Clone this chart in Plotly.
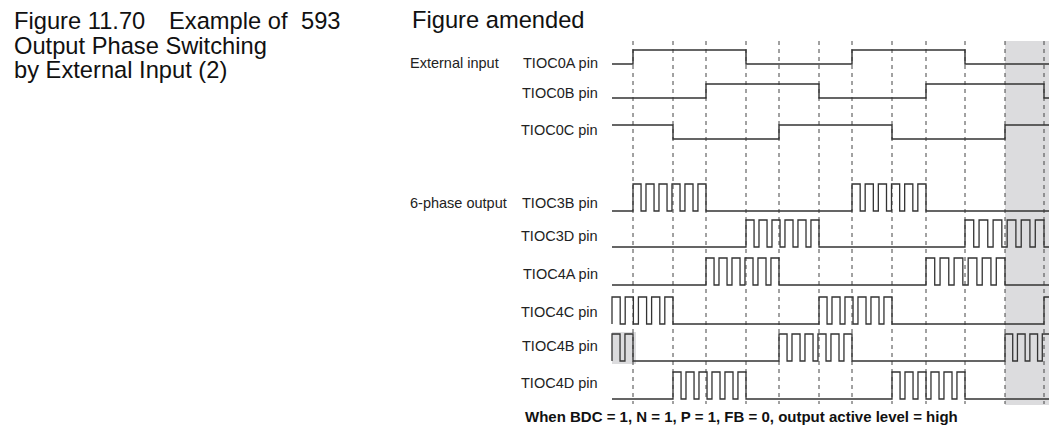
import plotly.graph_objects as go

# time axis (arbitrary units)
T_START, T_END = 612, 1050
EVENTS = [633, 673, 706, 746, 779, 819, 852, 892, 926, 965, 1005, 1044]

# external input pins: initial level and toggle times
input_names = ["TIOC0A pin", "TIOC0B pin", "TIOC0C pin"]
input_init = [0, 0, 1]
input_edges = [
    [633, 746, 852, 965],
    [706, 819, 926, 1044],
    [673, 779, 892, 1005],
]
input_low = [64, 98, 139]
input_label_y = [63, 93, 130]
INPUT_AMP = 14

# 6-phase outputs: PWM trains (start, end, number of pulses)
output_names = ["TIOC3B pin", "TIOC3D pin", "TIOC4A pin", "TIOC4C pin", "TIOC4B pin", "TIOC4D pin"]
output_trains = [
    [(633, 706, 6), (852, 926, 6)],
    [(746, 819, 6), (965, 1044, 6)],
    [(706, 779, 6), (926, 1005, 6)],
    [(612, 673, 5), (819, 892, 6), (1044, 1050, 1)],
    [(612, 633, 2), (779, 852, 6), (1005, 1050, 4)],
    [(673, 746, 6), (892, 965, 6)],
]
output_low = [211, 247, 285, 324, 361, 399]
output_label_y = [203, 236, 274, 312, 346, 383]
OUTPUT_AMP = 27
DUTY = 0.62

LINE_COL = "#333333"
FONT = "Liberation Sans, Arial, Helvetica, sans-serif"
PAGE_PAD = 8  # the page body margin around the plot div


def step_from_edges(init, edges):
    xs, ys = [T_START], [init]
    lvl = init
    for t in edges:
        lvl = 1 - lvl
        xs.append(t)
        ys.append(lvl)
    xs.append(T_END)
    ys.append(lvl)
    return xs, ys


def step_from_trains(trains):
    xs, ys = [T_START], [0]
    for a, b, n in trains:
        p = (b - a) / (n - 1 + DUTY)
        for k in range(n):
            xs += [a + k * p, a + k * p + DUTY * p]
            ys += [1, 0]
    xs.append(T_END)
    ys.append(ys[-1])
    pts = [(x, y) for x, y in zip(xs, ys) if x <= T_END]
    return [p[0] for p in pts], [p[1] for p in pts]


fig = go.Figure()

# gray highlight areas
fig.add_shape(type="rect", x0=EVENTS[10], x1=1052, y0=41, y1=405,
              fillcolor="#dcdcde", line_width=0, layer="below")
fig.add_shape(type="rect", x0=T_START, x1=636, y0=332, y1=364,
              fillcolor="#dcdcde", line_width=0, layer="below")

# dashed event lines
ex, ey = [], []
for t in EVENTS:
    ex += [t, t, None]
    ey += [41, 404, None]
fig.add_trace(go.Scatter(x=ex, y=ey, mode="lines",
                         line=dict(color="#444444", width=1, dash="4px,4px"),
                         hoverinfo="skip", showlegend=False))

for name, init, edges, low in zip(input_names, input_init, input_edges, input_low):
    xs, lv = step_from_edges(init, edges)
    fig.add_trace(go.Scatter(x=xs, y=[low - v * INPUT_AMP for v in lv], mode="lines",
                             line=dict(color=LINE_COL, width=1.4, shape="hv"),
                             name=name, showlegend=False))

for name, trains, low in zip(output_names, output_trains, output_low):
    xs, lv = step_from_trains(trains)
    fig.add_trace(go.Scatter(x=xs, y=[low - v * OUTPUT_AMP for v in lv], mode="lines",
                             line=dict(color=LINE_COL, width=1.3, shape="hv"),
                             name=name, showlegend=False))

# pin labels
label_font = dict(family=FONT, size=14.5, color="#222")
for name, y in zip(input_names + output_names, input_label_y + output_label_y):
    fig.add_annotation(x=600, y=y, text=name, xanchor="right", yanchor="middle",
                       showarrow=False, font=label_font)
fig.add_annotation(x=408, y=input_label_y[0], text="External input", xanchor="left",
                   yanchor="middle", showarrow=False, font=label_font)
fig.add_annotation(x=408, y=output_label_y[0], text="6-phase output", xanchor="left",
                   yanchor="middle", showarrow=False, font=label_font)

# titles
title_font = dict(family=FONT, size=23.7, color="#111")
for txt, x, y in [("Figure 11.70", 12, 21), ("Example of", 167, 21), ("593", 299, 21),
                  ("Output Phase Switching", 12, 46), ("by External Input (2)", 12, 70),
                  ("Figure amended", 410, 20)]:
    fig.add_annotation(x=x, y=y, text=txt, xanchor="left", yanchor="middle",
                       showarrow=False, font=title_font)

fig.add_annotation(x=523, y=416, text="<b>When BDC = 1, N = 1, P = 1, FB = 0, output active level = high</b>",
                   xanchor="left", yanchor="middle", showarrow=False,
                   font=dict(family=FONT, size=15, color="#111"))

fig.update_layout(
    width=1057 - PAGE_PAD, height=431 - PAGE_PAD,
    margin=dict(l=0, r=0, t=0, b=0),
    paper_bgcolor="white", plot_bgcolor="white",
    xaxis=dict(range=[PAGE_PAD, 1057], visible=False, fixedrange=True),
    yaxis=dict(range=[431, PAGE_PAD], visible=False, fixedrange=True),
)

fig.write_html("out.html")
